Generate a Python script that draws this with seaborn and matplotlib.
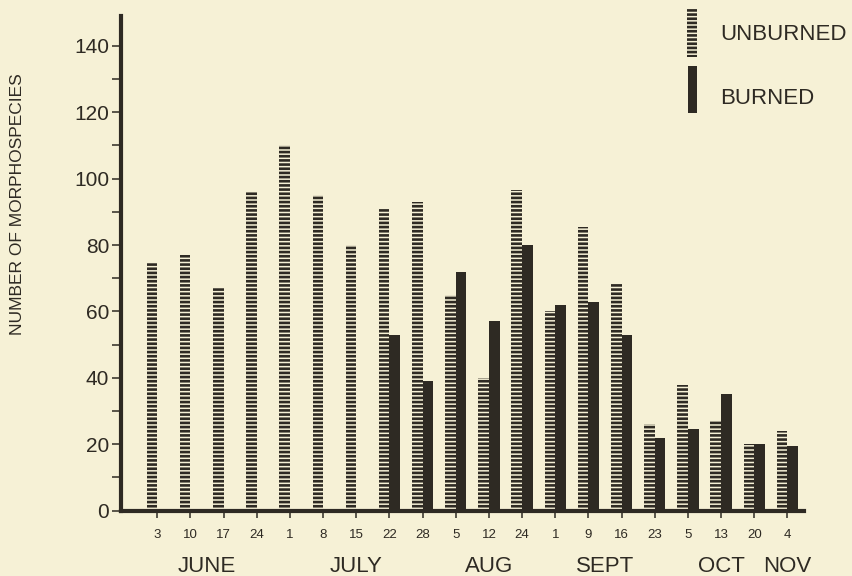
import numpy as np
import pandas as pd
import matplotlib
matplotlib.use('Agg')
import matplotlib.pyplot as plt
from matplotlib.patches import Rectangle
import seaborn as sns

# sampling dates (day of month) and month of each sample
days = [3, 10, 17, 24, 1, 8, 15, 22, 28, 5, 12, 24, 1, 9, 16, 23, 5, 13, 20, 4]
months = ['JUNE'] * 4 + ['JULY'] * 5 + ['AUG'] * 3 + ['SEPT'] * 4 + ['OCT'] * 3 + ['NOV']
unburned = [75, 77, 67, 96, 110, 95, 80, 91, 93, 65, 40, 96.5, 60, 85.5, 68.5, 26, 38, 27, 20, 24]
burned = [0, 0, 0, 0, 0, 0, 0, 53, 39, 72, 57, 80, 62, 63, 53, 22, 24.5, 35, 20, 19.5]

BG = '#f6f1d6'
INK = '#2e2a23'

sample = [f'{m} {d}' for m, d in zip(months, days)]
df = pd.DataFrame({'sample': sample * 2,
                   'treatment': ['UNBURNED'] * len(sample) + ['BURNED'] * len(sample),
                   'n': unburned + burned})

sns.set_style('ticks')
plt.rcParams['font.family'] = ['Liberation Sans', 'DejaVu Sans']
plt.rcParams['hatch.linewidth'] = 1.9

fig = plt.figure(figsize=(8.52, 5.76), dpi=100, facecolor=BG)
ax = fig.add_axes([121 / 852, 1 - 510.7 / 576, (804 - 121) / 852, (510.7 - 16) / 576])
ax.set_facecolor(BG)

sns.barplot(data=df, x='sample', y='n', hue='treatment', order=sample,
            hue_order=['UNBURNED', 'BURNED'], palette=[INK, INK],
            width=0.64, dodge=True, legend=False, ax=ax)

# unburned = horizontal striped bars, burned = solid
for bar in ax.containers[0]:
    bar.set_facecolor(BG)
    bar.set_edgecolor(INK)
    bar.set_hatch('----')
    bar.set_linewidth(0)
for bar in ax.containers[1]:
    bar.set_facecolor(INK)
    bar.set_edgecolor('none')

ax.set_xlim(-1.095, 19.5)
ax.set_ylim(0, 149)
ax.set_yticks(range(0, 141, 20))
ax.set_yticks(range(10, 140, 20), minor=True)
ax.set_xticks(range(len(days)))
ax.set_xticklabels(days, fontsize=9.5, color=INK)
ax.tick_params(axis='y', which='both', direction='out', length=6.5, width=1.1,
               color=INK, labelsize=15, labelcolor=INK, pad=2)
ax.tick_params(axis='x', direction='out', length=5, width=1.1, color=INK, pad=8)
ax.set_xlabel('')
ax.set_ylabel('')

for s in ['top', 'right']:
    ax.spines[s].set_visible(False)
for s in ['left', 'bottom']:
    ax.spines[s].set_linewidth(3)
    ax.spines[s].set_color(INK)

# month names centred under their samples
month_names = list(dict.fromkeys(months))
for m in month_names:
    pos = np.mean([i for i, mm in enumerate(months) if mm == m])
    ax.text(pos, -0.113, m, transform=ax.get_xaxis_transform(),
            ha='center', va='center', fontsize=16, color=INK)

fig.text(18 / 852, 1 - 204 / 576, 'NUMBER OF MORPHOSPECIES', rotation=90,
         ha='center', va='center', fontsize=12.5, color=INK)

# legend
fig.add_artist(Rectangle((687 / 852, 1 - 57 / 576), 10 / 852, 48 / 576,
                         transform=fig.transFigure, facecolor=BG, edgecolor=INK,
                         hatch='----', linewidth=0))
fig.add_artist(Rectangle((688 / 852, 1 - 113 / 576), 9 / 852, 47 / 576,
                         transform=fig.transFigure, facecolor=INK, edgecolor='none'))
fig.text(720 / 852, 1 - 35 / 576, 'UNBURNED', ha='left', va='center', fontsize=16, color=INK)
fig.text(720 / 852, 1 - 98 / 576, 'BURNED', ha='left', va='center', fontsize=16, color=INK)

fig.savefig('out.png', dpi=100, facecolor=BG)
